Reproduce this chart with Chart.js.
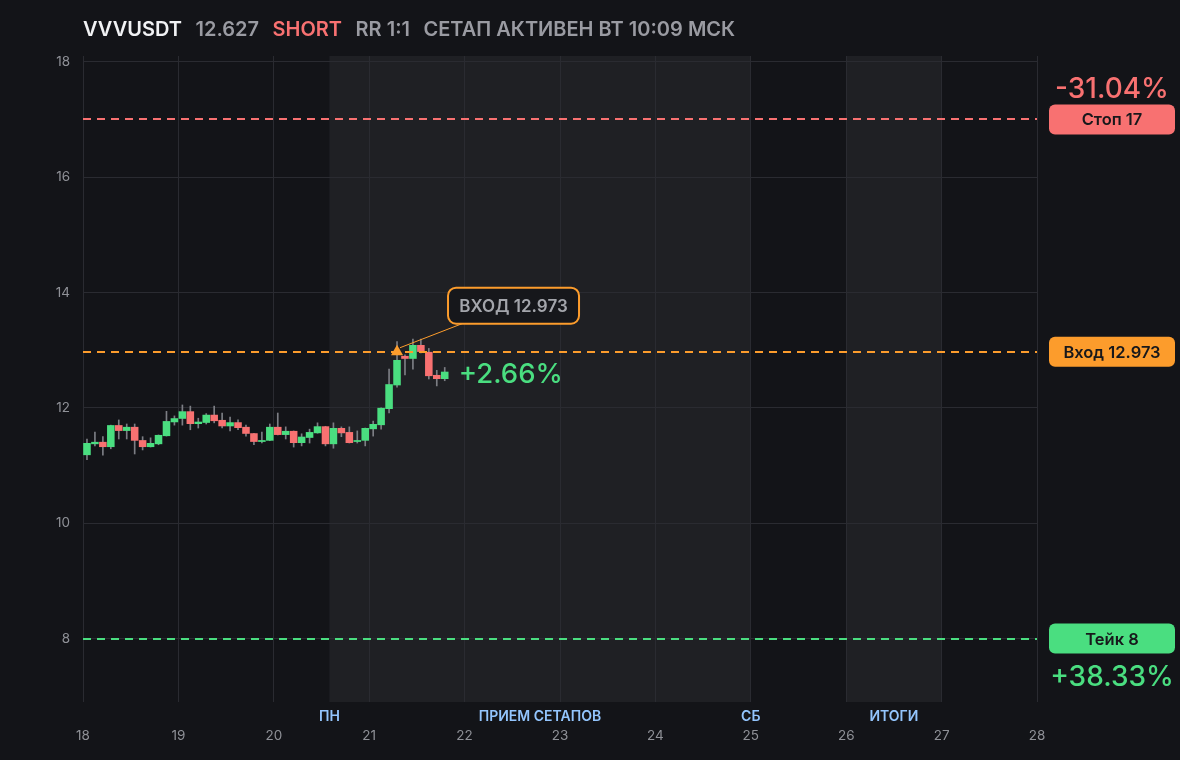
<!DOCTYPE html>
<html>
<head>
<meta charset="utf-8">
<script src="https://cdn.jsdelivr.net/npm/chart.js@4.4.1/dist/chart.umd.min.js"></script>
<style>
  html, body { margin: 0; padding: 0; background: #131418; }
  body { width: 1180px; height: 760px; overflow: hidden; position: relative; font-family: Inter, "Noto Sans", sans-serif; }
  #head { position: absolute; z-index: 2; left: 83px; top: 17px; font-size: 20px; font-weight: 600; white-space: nowrap; color: #9a9ba2; }
  #head span { margin-right: 13.5px; }
  #head .sym { color: #f1f2f4; }
  #head .side { color: #f87171; }
  canvas { position: absolute; left: 0; top: 0; z-index: 1; }
</style>
</head>
<body>
<div id="head">
  <span class="sym">VVVUSDT</span><span id="last"></span><span class="side">SHORT</span><span>RR 1:1</span><span>СЕТАП АКТИВЕН ВТ 10:09 МСК</span>
</div>
<canvas id="chart" width="1180" height="760"></canvas>
<script>
// 2h candles starting at day 18
const startDay = 18;
const candlesPerDay = 12;
const opens  = [11.18, 11.37, 11.41, 11.32, 11.70, 11.60, 11.67, 11.44, 11.32, 11.37,
                11.51, 11.75, 11.81, 11.94, 11.72, 11.74, 11.88, 11.79, 11.68, 11.75,
                11.67, 11.56, 11.41, 11.43, 11.67, 11.53, 11.60, 11.39, 11.48, 11.56,
                11.68, 11.37, 11.65, 11.58, 11.41, 11.43, 11.63, 11.70, 11.98, 12.39,
                12.90, 12.85, 13.09, 12.97, 12.57, 12.50];
const highs  = [11.46, 11.58, 11.50, 11.70, 11.79, 11.72, 11.72, 11.50, 11.48, 11.53,
                11.94, 11.86, 12.05, 12.03, 11.82, 11.90, 12.03, 11.91, 11.84, 11.79,
                11.70, 11.56, 11.58, 11.72, 11.91, 11.67, 11.60, 11.55, 11.63, 11.74,
                11.68, 11.74, 11.67, 11.67, 11.60, 11.65, 11.77, 12.00, 12.67, 13.15,
                12.92, 13.19, 13.19, 13.03, 12.65, 12.70];
const lows   = [11.10, 11.34, 11.18, 11.29, 11.46, 11.46, 11.20, 11.27, 11.32, 11.36,
                11.51, 11.70, 11.70, 11.62, 11.65, 11.72, 11.74, 11.65, 11.60, 11.62,
                11.51, 11.36, 11.39, 11.43, 11.53, 11.46, 11.32, 11.34, 11.39, 11.56,
                11.34, 11.30, 11.50, 11.39, 11.39, 11.34, 11.51, 11.63, 11.91, 12.36,
                12.57, 12.67, 12.95, 12.50, 12.38, 12.47];
const closes = [11.39, 11.41, 11.32, 11.70, 11.60, 11.67, 11.43, 11.32, 11.39, 11.53,
                11.77, 11.82, 11.94, 11.72, 11.76, 11.88, 11.77, 11.68, 11.75, 11.65,
                11.55, 11.41, 11.44, 11.67, 11.53, 11.60, 11.39, 11.50, 11.58, 11.68,
                11.37, 11.65, 11.56, 11.39, 11.44, 11.65, 11.72, 12.00, 12.41, 12.83,
                12.85, 13.09, 12.97, 12.55, 12.50, 12.627];

const entryPrice = 12.973;
const entryCandle = 39;
const stopPrice = 17;
const takePrice = 8;

const xTicks = [18, 19, 20, 21, 22, 23, 24, 25, 26, 27, 28];
const yTicks = [8, 10, 12, 14, 16, 18];

// shaded sessions + labels under the axis
const zoneStarts = [20.583, 26];
const zoneEnds   = [25, 27];
const sessionLabels = ["ПН", "ПРИЕМ СЕТАПОВ", "СБ", "ИТОГИ"];
const sessionAt     = [20.583, 22.79, 25, 26.5];

const GREEN = "#4ade80";
const RED = "#f87171";
const ORANGE = "#fc9c2c";
const FONT = "Inter, 'Noto Sans', sans-serif";

const lastPrice = closes[closes.length - 1];
document.getElementById("last").innerText = lastPrice.toFixed(3);

let xs = opens.map((o, i) => startDay + (i + 0.5) / candlesPerDay);
let bodies = opens.map((o, i) => ({x: xs[i], y: [o, closes[i]]}));
let wicks = opens.map((o, i) => ({x: xs[i], y: [lows[i], highs[i]]}));
let colors = opens.map((o, i) => closes[i] >= o ? GREEN : RED);

function pct(target) {
    return (entryPrice - target) / entryPrice * 100;
}
function fmtPct(v) {
    let t = Math.trunc(v * 100) / 100;
    return (t >= 0 ? "+" : "") + t.toFixed(2) + "%";
}

function roundRect(ctx, x, y, w, h, r) {
    ctx.beginPath();
    ctx.moveTo(x + r, y);
    ctx.arcTo(x + w, y, x + w, y + h, r);
    ctx.arcTo(x + w, y + h, x, y + h, r);
    ctx.arcTo(x, y + h, x, y, r);
    ctx.arcTo(x, y, x + w, y, r);
    ctx.closePath();
}

const overlay = {
    id: "overlay",
    beforeDraw(chart) {
        let ctx = chart.ctx;
        let a = chart.chartArea;
        let x = chart.scales.x;
        ctx.save();
        ctx.fillStyle = "#131418";
        ctx.fillRect(0, 0, chart.width, chart.height);
        ctx.fillStyle = "#1f2024";
        zoneStarts.forEach((s, i) => {
            let x1 = x.getPixelForValue(s);
            let x2 = x.getPixelForValue(zoneEnds[i]);
            ctx.fillRect(x1, a.top, x2 - x1, a.bottom - a.top);
        });
        ctx.restore();
    },
    afterDatasetsDraw(chart) {
        let ctx = chart.ctx;
        let a = chart.chartArea;
        let y = chart.scales.y;
        ctx.save();
        ctx.lineWidth = 2;
        ctx.setLineDash([8, 6]);
        [[stopPrice, RED], [entryPrice, ORANGE], [takePrice, GREEN]].forEach(([p, c]) => {
            let py = Math.round(y.getPixelForValue(p));
            ctx.strokeStyle = c;
            ctx.beginPath();
            ctx.moveTo(a.left, py);
            ctx.lineTo(a.right, py);
            ctx.stroke();
        });
        ctx.restore();
    },
    afterDraw(chart) {
        let ctx = chart.ctx;
        let a = chart.chartArea;
        let x = chart.scales.x;
        let y = chart.scales.y;
        ctx.save();

        // session labels
        ctx.font = "600 14px " + FONT;
        ctx.fillStyle = "#93c5fd";
        ctx.textAlign = "center";
        ctx.textBaseline = "middle";
        sessionLabels.forEach((t, i) => {
            ctx.fillText(t, x.getPixelForValue(sessionAt[i]), a.bottom + 15);
        });

        // right side price tags
        let boxL = a.right + 12, boxW = 126, boxH = 30;
        let cx = boxL + boxW / 2;
        [[stopPrice, RED, "Стоп " + stopPrice], [entryPrice, ORANGE, "Вход " + entryPrice.toFixed(3)], [takePrice, GREEN, "Тейк " + takePrice]].forEach(([p, c, t]) => {
            let py = y.getPixelForValue(p);
            ctx.fillStyle = c;
            roundRect(ctx, boxL, py - boxH / 2, boxW, boxH, 6);
            ctx.fill();
            ctx.fillStyle = "#17181b";
            ctx.font = "600 16.5px " + FONT;
            ctx.fillText(t, cx, py + 1);
        });
        ctx.font = "500 28px " + FONT;
        ctx.fillStyle = RED;
        ctx.fillText(fmtPct(pct(stopPrice)), cx, y.getPixelForValue(stopPrice) - 30);
        ctx.fillStyle = GREEN;
        ctx.fillText(fmtPct(pct(takePrice)), cx, y.getPixelForValue(takePrice) + 39);

        // current result next to last candle
        let lx = x.getPixelForValue(xs[xs.length - 1]) + 14;
        ctx.textAlign = "left";
        ctx.font = "500 27.5px " + FONT;
        ctx.fillStyle = GREEN;
        ctx.fillText(fmtPct(pct(lastPrice)), lx, y.getPixelForValue(lastPrice) + 3);

        // entry callout
        let mx = x.getPixelForValue(xs[entryCandle]);
        let my = y.getPixelForValue(entryPrice);
        let bx = mx + 51, bw = 131, bh = 36, by = my - 64;
        ctx.strokeStyle = ORANGE;
        ctx.lineWidth = 1;
        ctx.beginPath();
        ctx.moveTo(mx + 3, my - 4);
        ctx.lineTo(bx + 14, by + bh);
        ctx.stroke();
        ctx.fillStyle = "#16171b";
        roundRect(ctx, bx, by, bw, bh, 8);
        ctx.fill();
        ctx.lineWidth = 2;
        ctx.stroke();
        ctx.fillStyle = "#a3a5ab";
        ctx.font = "600 17px " + FONT;
        ctx.textAlign = "center";
        ctx.fillText("ВХОД " + entryPrice.toFixed(3), bx + bw / 2, by + bh / 2 + 1);

        ctx.restore();
    }
};

let chart = new Chart(document.getElementById("chart"), {
    type: "bar",
    data: {
        datasets: [
            {
                type: "scatter",
                data: [{x: xs[entryCandle], y: entryPrice}],
                pointStyle: "triangle",
                pointRadius: 7,
                backgroundColor: ORANGE,
                borderColor: ORANGE,
                borderWidth: 0,
                order: 0
            },
            {
                data: bodies,
                backgroundColor: colors,
                barPercentage: 0.95,
                categoryPercentage: 1,
                grouped: false,
                order: 1
            },
            {
                data: wicks,
                backgroundColor: "#7c7e84",
                barThickness: 1,
                grouped: false,
                order: 2
            }
        ]
    },
    options: {
        responsive: false,
        animation: false,
        layout: {padding: {left: 0, top: 56, right: 143, bottom: 0}},
        plugins: {legend: {display: false}, tooltip: {enabled: false}},
        scales: {
            x: {
                type: "linear",
                min: 18,
                max: 28,
                offset: false,
                afterFit(scale) { scale.height = 58; },
                afterBuildTicks(scale) { scale.ticks = xTicks.map(v => ({value: v})); },
                grid: {color: "#2a2b31", drawTicks: false, offset: false},
                border: {display: false},
                ticks: {color: "#8f9197", font: {family: FONT, size: 13.5}, padding: 26, maxRotation: 0}
            },
            y: {
                min: 6.9,
                max: 18.1,
                afterFit(scale) { scale.width = 83; },
                afterBuildTicks(scale) { scale.ticks = yTicks.map(v => ({value: v})); },
                grid: {color: "#2a2b31", drawTicks: false},
                border: {display: false},
                ticks: {color: "#8f9197", font: {family: FONT, size: 13.5}, padding: 13}
            }
        }
    },
    plugins: [overlay]
});
</script>
</body>
</html>
